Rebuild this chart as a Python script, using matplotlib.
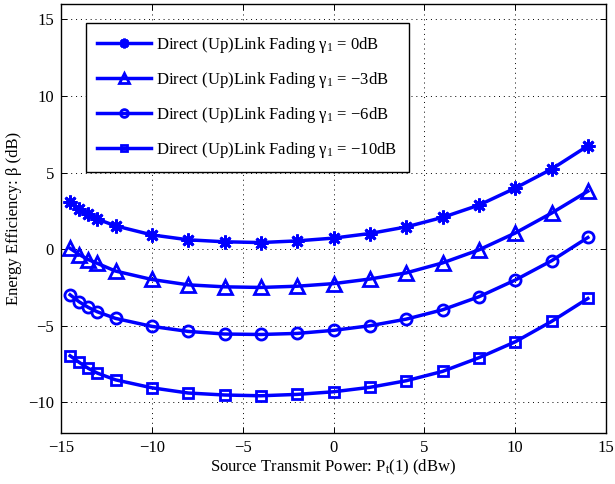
import matplotlib
matplotlib.use("Agg")
import matplotlib.pyplot as plt

plt.rcParams['font.family'] = ['Liberation Serif', 'DejaVu Serif']
plt.rcParams['mathtext.fontset'] = 'custom'
plt.rcParams['mathtext.rm'] = 'Liberation Serif'
plt.rcParams['mathtext.it'] = 'Liberation Serif:italic'

x = [-14.5, -14, -13.5, -13, -12, -10, -8, -6, -4, -2, 0, 2, 4, 6, 8, 10, 12, 14]
y_0db = [3.05, 2.65, 2.28, 1.96, 1.52, 0.93, 0.61, 0.48, 0.43, 0.54, 0.72, 1.02, 1.45, 2.07, 2.87, 3.98, 5.22, 6.74]
y_m3db = [0.05, -0.35, -0.68, -0.93, -1.43, -1.98, -2.33, -2.46, -2.5, -2.42, -2.25, -1.95, -1.55, -0.9, -0.05, 1.05, 2.35, 3.78]
y_m6db = [-2.98, -3.44, -3.8, -4.09, -4.52, -5.04, -5.37, -5.54, -5.57, -5.5, -5.3, -5.0, -4.57, -3.96, -3.11, -2.02, -0.76, 0.76]
y_m10db = [-6.96, -7.39, -7.78, -8.09, -8.53, -9.05, -9.39, -9.52, -9.57, -9.48, -9.31, -9.02, -8.59, -7.98, -7.09, -6.05, -4.72, -3.22]
labels = [r'Direct (Up)Link Fading γ$_\mathrm{1}$ = 0dB',
          r'Direct (Up)Link Fading γ$_\mathrm{1}$ = −3dB',
          r'Direct (Up)Link Fading γ$_\mathrm{1}$ = −6dB',
          r'Direct (Up)Link Fading γ$_\mathrm{1}$ = −10dB']

fig = plt.figure(figsize=(6.15, 4.84), dpi=100)
ax = fig.add_axes([61/615, 51/484, 545/615, 429/484])

blue = (0, 0, 1)
styles = [dict(marker=(8, 2, 0), markersize=10, markeredgewidth=2.0),
          dict(marker='^', markersize=9.5, markeredgewidth=2.0, markerfacecolor='none'),
          dict(marker='o', markersize=8, markeredgewidth=2.0, markerfacecolor='none'),
          dict(marker='s', markersize=6.5, markeredgewidth=2.0, markerfacecolor='none')]
for ys, lab, st in zip([y_0db, y_m3db, y_m6db, y_m10db], labels, styles):
    ax.plot(x, ys, color=blue, linewidth=2.5, markeredgecolor=blue, label=lab, **st)

ax.set_xlim(-15, 15)
ax.set_ylim(-12, 16)
ax.set_xticks([-15, -10, -5, 0, 5, 10, 15])
ax.set_yticks([-10, -5, 0, 5, 10, 15])
ax.grid(True, linestyle=(0, (1, 4)), color='black', linewidth=0.7)
ax.tick_params(direction='in', top=True, right=True, labelsize=12, length=4, width=0.7, pad=5)
for s in ax.spines.values():
    s.set_linewidth(1.0)

ax.set_xlabel(r'Source Transmit Power: P$_\mathrm{t}$(1) (dBw)', fontsize=12, labelpad=1)
ax.set_ylabel('Energy Efficiency: β (dB)', fontsize=12, labelpad=4)

leg = ax.legend(loc='upper left', bbox_to_anchor=(0.045, 0.955), borderaxespad=0,
                fancybox=False, framealpha=1, edgecolor='black', fontsize=12,
                handlelength=3.2, handletextpad=0.35, labelspacing=0.9,
                markerscale=0.7, borderpad=0.7)
leg.get_frame().set_linewidth(1.0)

fig.savefig('out.png', dpi=100)
